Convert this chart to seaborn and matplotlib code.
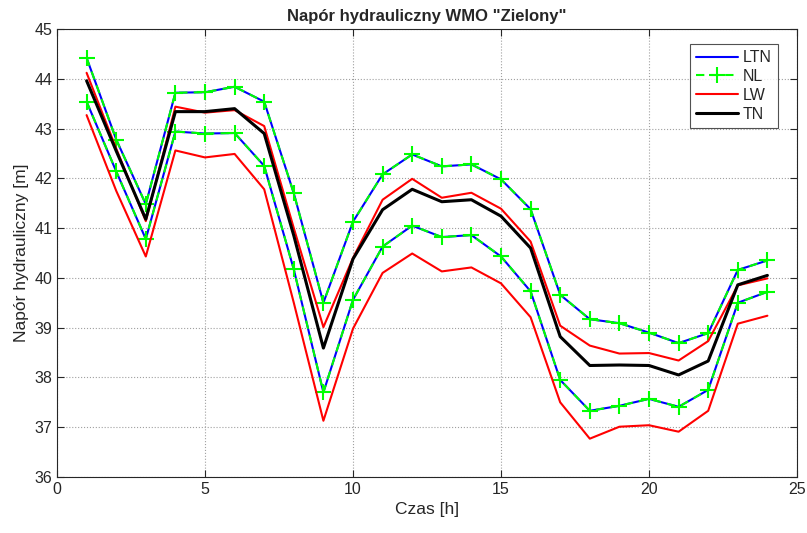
import numpy as np
import pandas as pd
import matplotlib
matplotlib.use('Agg')
import matplotlib.pyplot as plt
import seaborn as sns

# --- data ---
hours = list(range(1, 25))

ltn_upper = [44.42, 42.78, 41.48, 43.72, 43.73, 43.84, 43.54, 41.70, 39.50, 41.13, 42.08, 42.48,
             42.24, 42.28, 41.98, 41.38, 39.66, 39.17, 39.09, 38.90, 38.69, 38.89, 40.16, 40.35]
ltn_lower = [43.54, 42.14, 40.78, 42.94, 42.90, 42.91, 42.25, 40.17, 37.70, 39.56, 40.63, 41.05,
             40.82, 40.86, 40.43, 39.73, 37.95, 37.33, 37.43, 37.57, 37.41, 37.75, 39.50, 39.72]
nl_upper = list(ltn_upper)
nl_lower = list(ltn_lower)
lw_upper = [44.12, 42.60, 41.14, 43.44, 43.32, 43.37, 43.05, 41.00, 39.01, 40.40, 41.57, 41.99,
            41.61, 41.71, 41.39, 40.73, 39.04, 38.64, 38.48, 38.49, 38.34, 38.73, 39.85, 39.99]
lw_lower = [43.27, 41.75, 40.43, 42.56, 42.42, 42.49, 41.78, 39.50, 37.13, 38.98, 40.10, 40.49,
            40.13, 40.21, 39.89, 39.21, 37.50, 36.77, 37.01, 37.04, 36.91, 37.33, 39.08, 39.24]
tn = [43.96, 42.55, 41.18, 43.34, 43.34, 43.40, 42.90, 40.85, 38.59, 40.38, 41.37, 41.78,
      41.53, 41.57, 41.24, 40.60, 38.82, 38.24, 38.25, 38.24, 38.05, 38.33, 39.86, 40.05]

sns.set_style('white')
plt.rcParams['font.family'] = ['Liberation Sans', 'DejaVu Sans']

fig = plt.figure(figsize=(8.07, 5.33), dpi=100)
ax = fig.add_axes([57 / 807, 1 - 477 / 533, 740 / 807, 448 / 533])

green = '#00ff00'
nl_style = dict(color=green, lw=1.5, ls=(0, (4, 3)), marker='+', markersize=12,
                markeredgewidth=1.5, markeredgecolor=green, markerfacecolor=green)

# LTN (blue, solid)
sns.lineplot(x=hours, y=ltn_upper, color='blue', lw=1.5, label='LTN', ax=ax)
sns.lineplot(x=hours, y=ltn_lower, color='blue', lw=1.5, ax=ax)
# NL (green dashed with + markers)
sns.lineplot(x=hours, y=nl_upper, label='NL', ax=ax, **nl_style)
sns.lineplot(x=hours, y=nl_lower, ax=ax, **nl_style)
# LW (red)
sns.lineplot(x=hours, y=lw_upper, color='red', lw=1.5, label='LW', ax=ax)
sns.lineplot(x=hours, y=lw_lower, color='red', lw=1.5, ax=ax)
# TN (black, thicker)
sns.lineplot(x=hours, y=tn, color='black', lw=2.2, label='TN', ax=ax)

ax.set_xlim(0, 25)
ax.set_ylim(36, 45)
ax.set_xticks([0, 5, 10, 15, 20, 25])
ax.set_yticks(range(36, 46))
ax.tick_params(direction='in', length=5, labelsize=11.5, top=True, right=True,
               bottom=True, left=True, color='#262626', labelcolor='#262626')
ax.grid(True, ls=':', color='#a0a0a0', lw=0.8)
for s in ax.spines.values():
    s.set_color('#262626')
    s.set_linewidth(0.8)

ax.set_title('Napór hydrauliczny WMO "Zielony"', fontsize=12, fontweight='bold')
ax.set_xlabel('Czas [h]', fontsize=12.5)
ax.set_ylabel('Napór hydrauliczny [m]', fontsize=12.5)

leg = ax.legend(loc='upper right', fontsize=11.5, frameon=True, fancybox=False,
                edgecolor='#262626', handlelength=2.6, borderpad=0.4, labelspacing=0.25,
                handletextpad=0.3, bbox_to_anchor=(0.985, 0.985))
leg.get_frame().set_linewidth(0.8)

fig.savefig('out.png', dpi=100)
